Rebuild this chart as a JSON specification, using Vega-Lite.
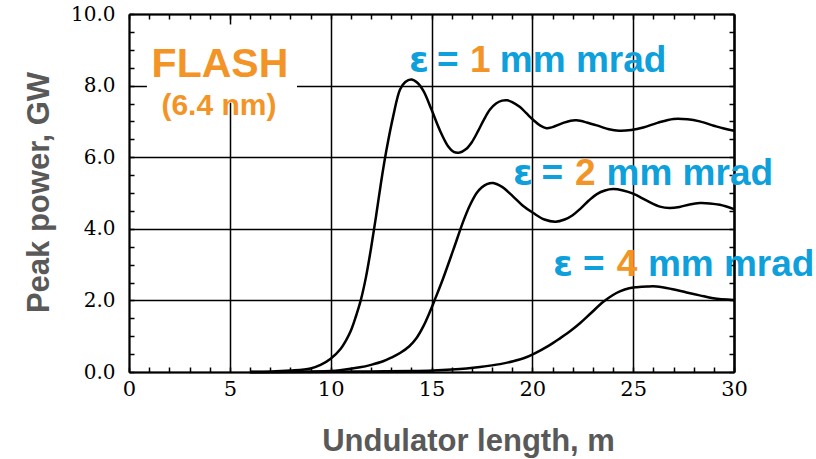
{
  "$schema": "https://vega.github.io/schema/vega-lite/v6.json",
  "width": 605,
  "height": 358,
  "autosize": {"type": "none"},
  "padding": {"left": 129, "top": 14, "right": 82, "bottom": 87},
  "background": "white",
  "config": {"view": {"stroke": null}},
  "datasets": {
    "curves": [
      {"x": 6, "y": 0, "em": "1"}, {"x": 7, "y": 0.01, "em": "1"}, {"x": 8, "y": 0.04, "em": "1"}, {"x": 9, "y": 0.1, "em": "1"}, {"x": 9.5, "y": 0.2, "em": "1"}, {"x": 10, "y": 0.37, "em": "1"}, {"x": 10.5, "y": 0.65, "em": "1"}, {"x": 10.75, "y": 0.87, "em": "1"}, {"x": 11.0, "y": 1.15, "em": "1"}, {"x": 11.25, "y": 1.55, "em": "1"}, {"x": 11.5, "y": 2.02, "em": "1"}, {"x": 11.75, "y": 2.65, "em": "1"}, {"x": 12.0, "y": 3.45, "em": "1"}, {"x": 12.25, "y": 4.35, "em": "1"}, {"x": 12.5, "y": 5.3, "em": "1"}, {"x": 12.75, "y": 6.15, "em": "1"}, {"x": 13.1, "y": 7.14, "em": "1"}, {"x": 13.44, "y": 7.89, "em": "1"}, {"x": 13.7, "y": 8.1, "em": "1"}, {"x": 14.0, "y": 8.17, "em": "1"}, {"x": 14.3, "y": 8.08, "em": "1"}, {"x": 14.6, "y": 7.85, "em": "1"}, {"x": 15.0, "y": 7.33, "em": "1"}, {"x": 15.4, "y": 6.77, "em": "1"}, {"x": 15.83, "y": 6.3, "em": "1"}, {"x": 16.1, "y": 6.15, "em": "1"}, {"x": 16.4, "y": 6.13, "em": "1"}, {"x": 16.7, "y": 6.22, "em": "1"}, {"x": 17.0, "y": 6.42, "em": "1"}, {"x": 17.3, "y": 6.72, "em": "1"}, {"x": 17.6, "y": 7.05, "em": "1"}, {"x": 17.9, "y": 7.33, "em": "1"}, {"x": 18.2, "y": 7.5, "em": "1"}, {"x": 18.5, "y": 7.58, "em": "1"}, {"x": 18.75, "y": 7.59, "em": "1"}, {"x": 19.0, "y": 7.54, "em": "1"}, {"x": 19.39, "y": 7.4, "em": "1"}, {"x": 19.7, "y": 7.23, "em": "1"}, {"x": 20.05, "y": 7.04, "em": "1"}, {"x": 20.4, "y": 6.88, "em": "1"}, {"x": 20.7, "y": 6.81, "em": "1"}, {"x": 21.0, "y": 6.84, "em": "1"}, {"x": 21.5, "y": 6.95, "em": "1"}, {"x": 21.9, "y": 7.02, "em": "1"}, {"x": 22.2, "y": 7.03, "em": "1"}, {"x": 22.7, "y": 6.97, "em": "1"}, {"x": 23.35, "y": 6.86, "em": "1"}, {"x": 23.8, "y": 6.78, "em": "1"}, {"x": 24.3, "y": 6.74, "em": "1"}, {"x": 24.9, "y": 6.76, "em": "1"}, {"x": 25.5, "y": 6.83, "em": "1"}, {"x": 26.2, "y": 6.96, "em": "1"}, {"x": 27.0, "y": 7.07, "em": "1"}, {"x": 27.7, "y": 7.06, "em": "1"}, {"x": 28.3, "y": 7.0, "em": "1"}, {"x": 29.0, "y": 6.88, "em": "1"}, {"x": 29.5, "y": 6.8, "em": "1"}, {"x": 30, "y": 6.74, "em": "1"},
      {"x": 6, "y": 0, "em": "2"}, {"x": 8, "y": 0.005, "em": "2"}, {"x": 10, "y": 0.03, "em": "2"}, {"x": 10.46, "y": 0.05, "em": "2"}, {"x": 11.45, "y": 0.13, "em": "2"}, {"x": 12.0, "y": 0.2, "em": "2"}, {"x": 12.6, "y": 0.3, "em": "2"}, {"x": 13.0, "y": 0.4, "em": "2"}, {"x": 13.44, "y": 0.53, "em": "2"}, {"x": 13.9, "y": 0.72, "em": "2"}, {"x": 14.26, "y": 0.95, "em": "2"}, {"x": 14.6, "y": 1.28, "em": "2"}, {"x": 14.92, "y": 1.68, "em": "2"}, {"x": 15.2, "y": 2.07, "em": "2"}, {"x": 15.58, "y": 2.62, "em": "2"}, {"x": 16.08, "y": 3.41, "em": "2"}, {"x": 16.57, "y": 4.2, "em": "2"}, {"x": 16.9, "y": 4.65, "em": "2"}, {"x": 17.24, "y": 5.0, "em": "2"}, {"x": 17.5, "y": 5.16, "em": "2"}, {"x": 17.75, "y": 5.25, "em": "2"}, {"x": 18.06, "y": 5.28, "em": "2"}, {"x": 18.5, "y": 5.17, "em": "2"}, {"x": 19.05, "y": 4.9, "em": "2"}, {"x": 19.5, "y": 4.66, "em": "2"}, {"x": 20.05, "y": 4.44, "em": "2"}, {"x": 20.6, "y": 4.26, "em": "2"}, {"x": 21.15, "y": 4.2, "em": "2"}, {"x": 21.6, "y": 4.26, "em": "2"}, {"x": 22.0, "y": 4.38, "em": "2"}, {"x": 22.4, "y": 4.57, "em": "2"}, {"x": 22.8, "y": 4.79, "em": "2"}, {"x": 23.2, "y": 4.97, "em": "2"}, {"x": 23.6, "y": 5.07, "em": "2"}, {"x": 24.0, "y": 5.11, "em": "2"}, {"x": 24.5, "y": 5.07, "em": "2"}, {"x": 25.0, "y": 4.98, "em": "2"}, {"x": 25.7, "y": 4.78, "em": "2"}, {"x": 26.33, "y": 4.62, "em": "2"}, {"x": 26.8, "y": 4.58, "em": "2"}, {"x": 27.3, "y": 4.61, "em": "2"}, {"x": 27.8, "y": 4.68, "em": "2"}, {"x": 28.3, "y": 4.72, "em": "2"}, {"x": 28.8, "y": 4.71, "em": "2"}, {"x": 29.3, "y": 4.67, "em": "2"}, {"x": 30, "y": 4.55, "em": "2"},
      {"x": 6, "y": 0, "em": "4"}, {"x": 10, "y": 0.005, "em": "4"}, {"x": 12, "y": 0.015, "em": "4"}, {"x": 14, "y": 0.03, "em": "4"}, {"x": 15.07, "y": 0.045, "em": "4"}, {"x": 16.0, "y": 0.07, "em": "4"}, {"x": 16.74, "y": 0.1, "em": "4"}, {"x": 17.4, "y": 0.14, "em": "4"}, {"x": 18.4, "y": 0.22, "em": "4"}, {"x": 19.05, "y": 0.3, "em": "4"}, {"x": 19.6, "y": 0.39, "em": "4"}, {"x": 20.05, "y": 0.5, "em": "4"}, {"x": 20.8, "y": 0.73, "em": "4"}, {"x": 21.37, "y": 0.94, "em": "4"}, {"x": 21.9, "y": 1.15, "em": "4"}, {"x": 22.36, "y": 1.36, "em": "4"}, {"x": 22.9, "y": 1.64, "em": "4"}, {"x": 23.52, "y": 1.96, "em": "4"}, {"x": 24.0, "y": 2.15, "em": "4"}, {"x": 24.34, "y": 2.25, "em": "4"}, {"x": 24.8, "y": 2.34, "em": "4"}, {"x": 25.17, "y": 2.37, "em": "4"}, {"x": 25.7, "y": 2.39, "em": "4"}, {"x": 26.16, "y": 2.39, "em": "4"}, {"x": 26.9, "y": 2.32, "em": "4"}, {"x": 27.65, "y": 2.22, "em": "4"}, {"x": 28.3, "y": 2.14, "em": "4"}, {"x": 28.97, "y": 2.06, "em": "4"}, {"x": 30, "y": 2.01, "em": "4"}
    ],
    "labels": [
      {"x": 13.88, "y": 8.37, "text": "ε", "kind": "label"},
      {"x": 15.27, "y": 8.37, "text": "=", "kind": "label"},
      {"x": 16.91, "y": 8.37, "text": "1", "kind": "value"},
      {"x": 18.39, "y": 8.37, "text": "mm mrad", "kind": "label"},
      {"x": 19.04, "y": 5.23, "text": "ε", "kind": "label"},
      {"x": 20.46, "y": 5.23, "text": "=", "kind": "label"},
      {"x": 22.11, "y": 5.23, "text": "2", "kind": "value"},
      {"x": 23.68, "y": 5.23, "text": "mm mrad", "kind": "label"},
      {"x": 21.02, "y": 2.67, "text": "ε", "kind": "label"},
      {"x": 22.51, "y": 2.67, "text": "=", "kind": "label"},
      {"x": 24.19, "y": 2.67, "text": "4", "kind": "value"},
      {"x": 25.73, "y": 2.67, "text": "mm mrad", "kind": "label"}
    ],
    "flash": [
      {"x": 4.51, "y": 8.25, "text": "FLASH", "role": "title"},
      {"x": 4.46, "y": 7.19, "text": "(6.4 nm)", "role": "sub"}
    ],
    "box": [
      {"x": 0.89, "x2": 8.33, "y": 7.52, "y2": 9.71}
    ]
  },
  "layer": [
    {
      "data": {"name": "curves"},
      "mark": {"type": "line", "color": "black", "strokeWidth": 2.5, "interpolate": "catmull-rom"},
      "encoding": {
        "x": {
          "field": "x", "type": "quantitative",
          "scale": {"domain": [0, 30], "nice": false, "zero": false},
          "axis": {
            "orient": "bottom",
            "values": [0,1,2,3,4,5,6,7,8,9,10,11,12,13,14,15,16,17,18,19,20,21,22,23,24,25,26,27,28,29,30],
            "labelExpr": "datum.value % 5 === 0 ? datum.label : ''",
            "grid": true, "gridColor": "black", "gridWidth": 1.5,
            "gridOpacity": {"condition": {"test": "datum.value % 5 === 0", "value": 1}, "value": 0},
            "tickSize": -5, "tickColor": "black", "tickWidth": 1.5,
            "domainColor": "black", "domainWidth": 2,
            "labelFont": "DejaVu Serif", "labelFontSize": 21, "labelColor": "black",
            "labelPadding": 11, "labelFlush": false, "labelOverlap": false,
            "title": "Undulator length, m", "titleFont": "Liberation Sans", "titleFontSize": 31,
            "titleFontWeight": "bold", "titleColor": "#595959",
            "titleX": 339, "titleY": 78, "titleBaseline": "alphabetic", "titleAlign": "center"
          }
        },
        "y": {
          "field": "y", "type": "quantitative",
          "scale": {"domain": [0, 10], "nice": false},
          "axis": {
            "orient": "left",
            "values": [0,0.5,1,1.5,2,2.5,3,3.5,4,4.5,5,5.5,6,6.5,7,7.5,8,8.5,9,9.5,10],
            "labelExpr": "datum.value % 2 === 0 ? format(datum.value, '.1f') : ''",
            "grid": true, "gridColor": "black", "gridWidth": 1.5,
            "gridOpacity": {"condition": {"test": "datum.value % 2 === 0", "value": 1}, "value": 0},
            "tickSize": -5, "tickColor": "black", "tickWidth": 1.5,
            "domainColor": "black", "domainWidth": 2,
            "labelFont": "DejaVu Serif", "labelFontSize": 20, "labelColor": "black",
            "labelPadding": 19, "labelFlush": false, "labelOverlap": false,
            "title": "Peak power, GW", "titleFont": "Liberation Sans", "titleFontSize": 31,
            "titleFontWeight": "bold", "titleColor": "#595959",
            "titleAngle": -90, "titleX": -81, "titleY": 178, "titleBaseline": "alphabetic", "titleAlign": "center"
          }
        },
        "detail": {"field": "em", "type": "nominal"}
      }
    },
    {
      "data": {"name": "box"},
      "mark": {"type": "rect", "fill": "white"},
      "encoding": {
        "x": {"field": "x", "type": "quantitative", "axis": null},
        "x2": {"field": "x2"},
        "y": {"field": "y", "type": "quantitative", "axis": null},
        "y2": {"field": "y2"}
      }
    },
    {
      "data": {"name": "flash"},
      "transform": [{"filter": "datum.role === 'title'"}],
      "mark": {"type": "text", "font": "Liberation Sans", "fontWeight": "bold", "fontSize": 41, "color": "#F39427", "align": "center", "baseline": "alphabetic"},
      "encoding": {
        "x": {"field": "x", "type": "quantitative", "axis": null},
        "y": {"field": "y", "type": "quantitative", "axis": null},
        "text": {"field": "text"}
      }
    },
    {
      "data": {"name": "flash"},
      "transform": [{"filter": "datum.role === 'sub'"}],
      "mark": {"type": "text", "font": "Liberation Sans", "fontWeight": "bold", "fontSize": 30, "color": "#F39427", "align": "center", "baseline": "alphabetic"},
      "encoding": {
        "x": {"field": "x", "type": "quantitative", "axis": null},
        "y": {"field": "y", "type": "quantitative", "axis": null},
        "text": {"field": "text"}
      }
    },
    {
      "data": {"name": "labels"},
      "transform": [{"filter": "datum.text === 'ε'"}],
      "mark": {"type": "text", "font": "DejaVu Sans", "fontWeight": "bold", "fontSize": 36, "align": "left", "baseline": "alphabetic", "color": "#0EA0DB"},
      "encoding": {
        "x": {"field": "x", "type": "quantitative", "axis": null},
        "y": {"field": "y", "type": "quantitative", "axis": null},
        "text": {"field": "text"}
      }
    },
    {
      "data": {"name": "labels"},
      "transform": [{"filter": "datum.text !== 'ε'"}],
      "mark": {"type": "text", "font": "Liberation Sans", "fontWeight": "bold", "fontSize": 37, "align": "left", "baseline": "alphabetic"},
      "encoding": {
        "x": {
          "field": "x", "type": "quantitative",
          "axis": {
            "orient": "top",
            "values": [0,1,2,3,4,5,6,7,8,9,10,11,12,13,14,15,16,17,18,19,20,21,22,23,24,25,26,27,28,29,30],
            "labels": false, "grid": false, "title": null,
            "tickSize": -5, "tickColor": "black", "tickWidth": 1.5,
            "domainColor": "black", "domainWidth": 2
          }
        },
        "y": {
          "field": "y", "type": "quantitative",
          "axis": {
            "orient": "right",
            "values": [0,0.5,1,1.5,2,2.5,3,3.5,4,4.5,5,5.5,6,6.5,7,7.5,8,8.5,9,9.5,10],
            "labels": false, "grid": false, "title": null,
            "tickSize": -5, "tickColor": "black", "tickWidth": 1.5,
            "domainColor": "black", "domainWidth": 2.5
          }
        },
        "text": {"field": "text"},
        "color": {"field": "kind", "type": "nominal", "scale": {"domain": ["label", "value"], "range": ["#0EA0DB", "#F39427"]}, "legend": null}
      }
    }
  ],
  "resolve": {"axis": {"x": "independent", "y": "independent"}}
}
